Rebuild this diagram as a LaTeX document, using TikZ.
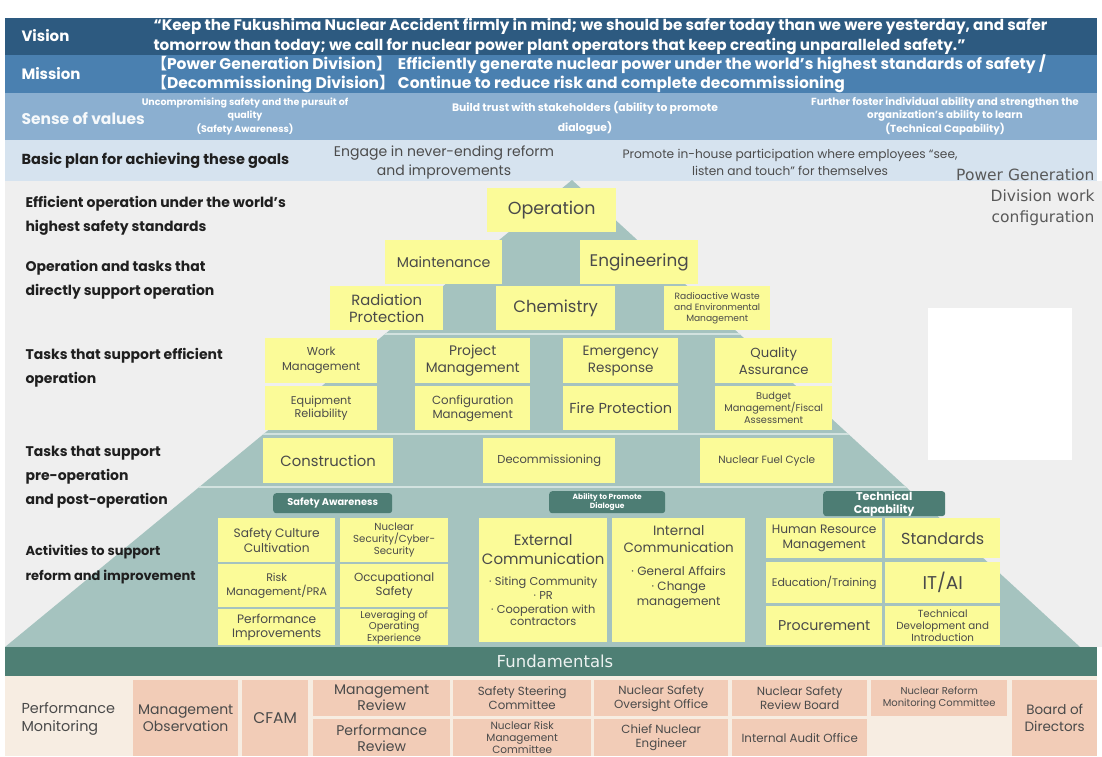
\documentclass[tikz,border=0pt]{standalone}
\usepackage{fontspec}
\setmainfont{Poppins}
\newfontfamily\cjk{Noto Sans CJK SC}
\newfontfamily\verd{DejaVu Sans}
\usetikzlibrary{positioning}

\definecolor{visionblue}{HTML}{2D5A80}
\definecolor{missionblue}{HTML}{4A80B0}
\definecolor{valueblue}{HTML}{8BAFD0}
\definecolor{planblue}{HTML}{D6E3EF}
\definecolor{pagegray}{HTML}{EFEFEF}
\definecolor{pyrteal}{HTML}{A5C3BF}
\definecolor{seplight}{HTML}{D2E2DF}
\definecolor{taskyellow}{HTML}{FBFB98}
\definecolor{tagteal}{HTML}{4D7D74}
\definecolor{fundteal}{HTML}{4E7F74}
\definecolor{cream}{HTML}{F7EDE2}
\definecolor{peach}{HTML}{F2CCB7}
\definecolor{ink}{HTML}{4A4A4A}

\newcommand{\fsz}[2]{\fontsize{#1}{#2}\selectfont}

\begin{document}
\begin{tikzpicture}[x=1pt, y=-1pt,
    % banner labels on the left
    bandlabel/.style={anchor=west, font=\bfseries\fsz{15}{18}},
    % yellow work boxes
    task/.style={anchor=north west, fill=taskyellow, text=ink, align=center, inner sep=1pt},
    % dark tags above the activity groups
    tagbox/.style={anchor=north west, fill=tagteal, rounded corners=3pt, text=white,
        align=center, inner sep=0pt},
    % row captions at the side of the pyramid
    side/.style={anchor=west, align=left, text=black!88, font=\bfseries\fsz{14}{24}},
    % fundamentals boxes
    fundbox/.style={anchor=north west, fill=peach, text=ink, align=center, inner sep=1pt}
    ]

    \useasboundingbox (0,0) rectangle (1102,756);
    \fill[white] (0,0) rectangle (1102,756);

    % --- banners at the top ---
    \fill[visionblue]  (5,18)  rectangle (1097,55);
    \fill[missionblue] (5,55)  rectangle (1097,93);
    \fill[valueblue]   (5,93)  rectangle (1097,140);
    \fill[planblue]    (5,140) rectangle (1097,181);

    \node[bandlabel, text=white] (vision) at (18,36) {Vision};
    \node[anchor=west, align=left, text=white, font=\bfseries\fsz{15.2}{20}] (visiontxt) at (150,36)
        {“Keep the Fukushima Nuclear Accident firmly in mind; we should be safer today than we were yesterday, and safer\\
         tomorrow than today; we call for nuclear power plant operators that keep creating unparalleled safety.”};

    \node[bandlabel, text=white] (mission) at (18,74) {Mission};
    \node[anchor=west, text=white, font=\bfseries\fsz{15.5}{19}] (missiontxt) at (148,74)
        {\begin{tabular}{@{}l@{\ }l@{}}
         {\cjk 【}Power Generation Division{\cjk 】} & Efficiently generate nuclear power under the world’s highest standards of safety /\\
         {\cjk 【}Decommissioning Division{\cjk 】} & Continue to reduce risk and complete decommissioning
         \end{tabular}};

    \node[bandlabel, text=white!92!valueblue, font=\bfseries\fsz{15.5}{18}] (values) at (18,118) {Sense of values};
    \node[align=center, text=white, font=\bfseries\fsz{9.5}{13.5}] (val1) at (245,116)
        {Uncompromising safety and the pursuit of\\quality\\(Safety Awareness)};
    \node[align=center, text=white, font=\bfseries\fsz{10.8}{20}] (val2) at (585,118)
        {Build trust with stakeholders (ability to promote\\dialogue)};
    \node[align=center, text=white, font=\bfseries\fsz{10.3}{13.5}] (val3) at (945,116)
        {Further foster individual ability and strengthen the\\organization’s ability to learn\\(Technical Capability)};

    \node[bandlabel, text=black!88, font=\bfseries\fsz{14.5}{17}] (plan) at (18,161) {Basic plan for achieving these goals};
    \node[align=center, text=black!70, font=\fsz{14}{19}] (plan1) at (444,162)
        {Engage in never-ending reform\\and improvements};
    \node[align=center, text=black!70, font=\fsz{12.2}{17}] (plan2) at (790,162)
        {Promote in-house participation where employees “see,\\listen and touch” for themselves};

    % --- pyramid area ---
    \fill[pagegray] (5,181) rectangle (1102,647);
    \fill[pyrteal] (572,180) -- (1080,647) -- (5,647) -- cycle;
    \begin{scope}
        \clip (572,180) -- (1080,647) -- (5,647) -- cycle;
        \foreach \yy in {334,434,487}
            \draw[seplight, line width=2pt] (0,\yy) -- (1102,\yy);
    \end{scope}
    \fill[white] (928,308) rectangle (1072,460);

    \node[anchor=north east, align=right, text=black!65, font=\verd\fsz{15.5}{21}] (pgdiv) at (1098,165)
        {Power Generation\\Division work\\configuration};

    % row captions
    \node[side] (cap1) at (22,216) {Efficient operation under the world’s\\highest safety standards};
    \node[side] (cap2) at (22,280) {Operation and tasks that\\directly support operation};
    \node[side] (cap3) at (22,368) {Tasks that support efficient\\operation};
    \node[side] (cap4) at (22,477) {Tasks that support\\pre-operation\\and post-operation};
    \node[side, font=\bfseries\fsz{13}{25}] (cap5) at (22,565) {Activities to support\\reform and improvement};

    % operation and direct support
    \node[task, minimum width=129, minimum height=44, font=\fsz{17.5}{20}] (oper) at (487,188) {Operation};
    \node[task, minimum width=117, minimum height=44, font=\fsz{14.2}{17}] (maint) at (385,240) {Maintenance};
    \node[task, minimum width=118, minimum height=44, font=\fsz{16.8}{19}] (engin) at (580,240) {Engineering};
    \node[task, minimum width=113, minimum height=44, font=\fsz{14.8}{17}] (radprot) at (330,286) {Radiation\\Protection};
    \node[task, minimum width=119, minimum height=44, font=\fsz{16.5}{19}] (chem) at (496,286) {Chemistry};
    \node[task, minimum width=106, minimum height=44, font=\fsz{9.1}{11}] (radwaste) at (664,286)
        {Radioactive Waste\\and Environmental\\Management};

    % efficient operation support
    \node[task, minimum width=112, minimum height=45, font=\fsz{11.5}{15}] (workmgmt) at (265,338) {Work\\Management};
    \node[task, minimum width=115, minimum height=45, font=\fsz{13.8}{17}] (projmgmt) at (415,338) {Project\\Management};
    \node[task, minimum width=115, minimum height=45, font=\fsz{13.5}{17}] (emerg) at (563,338) {Emergency\\Response};
    \node[task, minimum width=117, minimum height=45, font=\fsz{13.2}{17}] (quality) at (715,338) {Quality\\Assurance};
    \node[task, minimum width=112, minimum height=44, font=\fsz{11.2}{13.5}] (equip) at (265,386) {Equipment\\Reliability};
    \node[task, minimum width=115, minimum height=44, font=\fsz{11.8}{14}] (config) at (415,386) {Configuration\\Management};
    \node[task, minimum width=115, minimum height=44, font=\fsz{14.5}{17}] (fire) at (563,386) {Fire Protection};
    \node[task, minimum width=117, minimum height=44, font=\fsz{9.8}{12}] (budget) at (715,386)
        {Budget\\Management/Fiscal\\Assessment};

    % pre- and post-operation
    \node[task, minimum width=130, minimum height=45, font=\fsz{14.8}{17}] (constr) at (263,438) {Construction};
    \node[task, minimum width=132, minimum height=45, font=\fsz{11.5}{13}] (decom) at (483,438) {Decommissioning};
    \node[task, minimum width=133, minimum height=45, font=\fsz{10.5}{12}] (fuel) at (700,438) {Nuclear Fuel Cycle};

    % reform and improvement
    \node[tagbox, minimum width=119, minimum height=20, font=\bfseries\fsz{9.8}{11}] (tagsafe) at (273,493) {Safety Awareness};
    \node[tagbox, minimum width=116, minimum height=22, font=\bfseries\fsz{7.5}{9}] (tagdial) at (549,491) {Ability to Promote\\Dialogue};
    \node[tagbox, minimum width=122, minimum height=22, font=\bfseries\fsz{11.2}{13}] (tagtech) at (823,491) {Technical\\Capability};

    \node[task, minimum width=117, minimum height=44, font=\fsz{12.2}{14.5}] (culture) at (218,518) {Safety Culture\\Cultivation};
    \node[task, minimum width=108, minimum height=44, font=\fsz{10.2}{12}] (security) at (340,518) {Nuclear\\Security/Cyber-\\Security};
    \node[task, minimum width=117, minimum height=43, font=\fsz{11}{14}] (risk) at (218,564) {Risk\\Management/PRA};
    \node[task, minimum width=108, minimum height=43, font=\fsz{11.8}{14.5}] (occup) at (340,564) {Occupational\\Safety};
    \node[task, minimum width=117, minimum height=36, font=\fsz{12.2}{14}] (perfimp) at (218,609) {Performance\\Improvements};
    \node[task, minimum width=108, minimum height=36, font=\fsz{10}{11.5}] (leverage) at (340,609) {Leveraging of\\Operating\\Experience};

    \node[task, minimum width=128, minimum height=124, text width=124] (extcomm) at (479,518)
        {\fsz{15}{19}External\\Communication\par\vspace{7pt}
         \fsz{11.4}{14}· Siting Community\\· PR\\· Cooperation with\\contractors};
    \node[task, minimum width=133, minimum height=124, text width=129] (intcomm) at (612,518)
        {\fsz{13.5}{17}Internal\\Communication\par\vspace{8pt}
         \fsz{12}{15}· General Affairs\\· Change\\management\par\vspace{26pt}};

    \node[task, minimum width=116, minimum height=40, font=\fsz{12.2}{14.5}] (hrm) at (766,518) {Human Resource\\Management};
    \node[task, minimum width=115, minimum height=40, font=\fsz{16}{19}] (stand) at (885,518) {Standards};
    \node[task, minimum width=116, minimum height=41, font=\fsz{11}{13}] (edu) at (766,562) {Education/Training};
    \node[task, minimum width=115, minimum height=41, font=\fsz{18.5}{21}] (itai) at (885,562) {IT/AI};
    \node[task, minimum width=116, minimum height=39, font=\fsz{14.2}{17}] (procure) at (766,606) {Procurement};
    \node[task, minimum width=115, minimum height=39, font=\fsz{10.3}{11.8}] (techdev) at (885,606)
        {Technical\\Development and\\Introduction};

    % --- fundamentals ---
    \fill[fundteal] (5,647) rectangle (1097,676);
    \node[text=white!90!fundteal, font=\verd\fsz{16.5}{19}] (fund) at (555,661) {Fundamentals};
    \fill[cream] (5,676) rectangle (1097,756);

    \node[anchor=west, align=left, text=ink, font=\fsz{14.4}{18}] (perfmon) at (18,719) {Performance\\Monitoring};
    \node[fundbox, minimum width=105, minimum height=76, font=\fsz{14}{17}] (mobs) at (133,680) {Management\\Observation};
    \node[fundbox, minimum width=66, minimum height=76, font=\fsz{15.5}{18}] (cfam) at (242,680) {CFAM};
    \node[fundbox, minimum width=137, minimum height=36, font=\fsz{14}{16}] (mrev) at (313,680) {Management\\Review};
    \node[fundbox, minimum width=137, minimum height=37, font=\fsz{14}{16}] (prev) at (313,719) {Performance\\Review};
    \node[fundbox, minimum width=138, minimum height=36, font=\fsz{11.8}{14}] (steer) at (453,680) {Safety Steering\\Committee};
    \node[fundbox, minimum width=138, minimum height=37, font=\fsz{10.5}{12.3}] (nrisk) at (453,719) {Nuclear Risk\\Management\\Committee};
    \node[fundbox, minimum width=134, minimum height=36, font=\fsz{11.8}{14}] (nsoo) at (594,680) {Nuclear Safety\\Oversight Office};
    \node[fundbox, minimum width=134, minimum height=37, font=\fsz{11.8}{14}] (cne) at (594,719) {Chief Nuclear\\Engineer};
    \node[fundbox, minimum width=135, minimum height=36, font=\fsz{11.8}{14}] (nsrb) at (732,680) {Nuclear Safety\\Review Board};
    \node[fundbox, minimum width=135, minimum height=37, font=\fsz{11.8}{14}] (audit) at (732,719) {Internal Audit Office};
    \node[fundbox, minimum width=136, minimum height=36, font=\fsz{10}{12}] (nrmc) at (871,680) {Nuclear Reform\\Monitoring Committee};
    \node[fundbox, minimum width=85, minimum height=76, font=\fsz{13.5}{17}] (board) at (1012,680) {Board of\\Directors};

\end{tikzpicture}
\end{document}
